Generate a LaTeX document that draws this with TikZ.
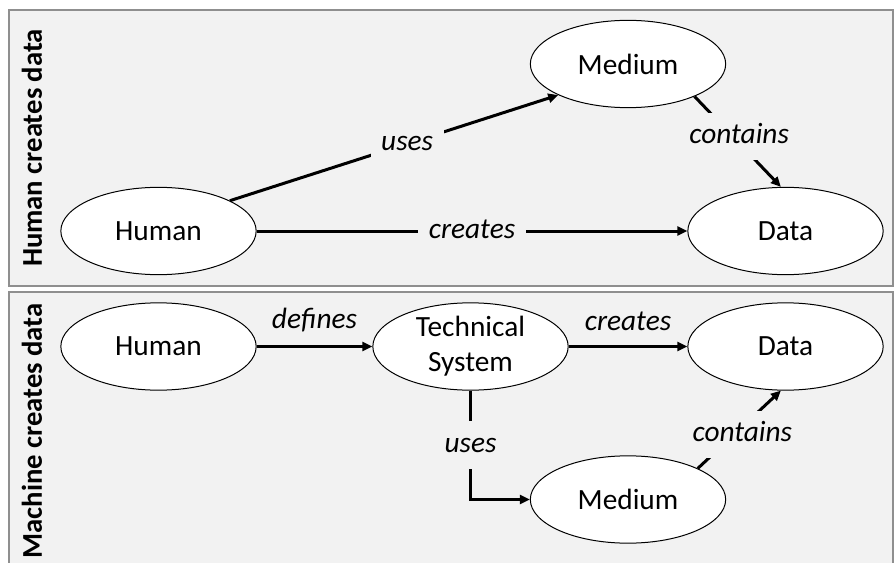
\documentclass[tikz,border=0pt]{standalone}
\usepackage{fontspec}
\setmainfont{Carlito}
\usetikzlibrary{shapes.geometric,arrows.meta}
\definecolor{panelbg}{HTML}{F2F2F2}
\definecolor{panelline}{HTML}{8F8F8F}
\begin{document}
\begin{tikzpicture}[x=0.75pt,y=-0.75pt,
  panel/.style={draw=panelline,line width=1pt,fill=panelbg},
  ell/.style={ellipse,draw=black,line width=0.75pt,fill=white,
    minimum width=146.5pt,minimum height=65.5pt,inner sep=0pt,
    font=\fontsize{22}{26.4}\selectfont},
  conn/.style={line width=2.25pt,-{Triangle[length=7.5pt,width=6.75pt]}},
  cut/.style={fill=panelbg,inner xsep=8pt,inner ysep=4.5pt,
    text height=18.5pt,text depth=7.9pt,
    font=\fontsize{22}{26.4}\selectfont\itshape},
  over/.style={inner sep=0pt,font=\fontsize{22}{26.4}\selectfont\itshape},
  side/.style={rotate=90,inner sep=0pt,font=\fontsize{21.5}{25}\selectfont\bfseries}
]
\clip (0,0) rectangle (896,563);
\fill[white] (0,0) rectangle (896,563);

% two panels
\draw[panel] (9,10) rectangle (893,286);
\draw[panel] (9,292) rectangle (893,580);
\node[side] (t1) at (32,148) {Human creates data};
\node[side] (t2) at (32,431) {Machine creates data};

% upper panel: human creates data
\node[ell] (h1) at (158.5,231) {Human};
\node[ell] (m1) at (628,64) {Medium};
\node[ell] (d1) at (785.5,231) {Data};

\draw[conn] (h1) -- node[cut] {creates} (d1);
\draw[conn] (h1.23) -- node[cut,pos=0.54] {uses} (m1.204);
\draw[conn] (m1.-26) -- node[cut,pos=0.44,xshift=5pt] {contains} (d1.96);

% lower panel: machine creates data
\node[ell,label={[align=center,font=\fontsize{22}{26.3}\selectfont]center:Technical\\System}] (ts) at (470.5,346.5) {};
\node[ell] (h2) at (158.5,346.5) {Human};
\node[ell] (d2) at (785.5,346.5) {Data};
\node[ell] (m2) at (628,499.5) {Medium};

\draw[conn] (h2) -- node[over,above=9.5pt] {defines} (ts);
\draw[conn] (ts) -- node[over,above=11pt] {creates} (d2);
\draw[conn] (ts.south) |- node[cut,pos=0.25] {uses} (m2.west);
\draw[conn] (m2.24.5) -- node[cut,pos=0.44,xshift=6pt] {contains} (d2.264);
\end{tikzpicture}
\end{document}
